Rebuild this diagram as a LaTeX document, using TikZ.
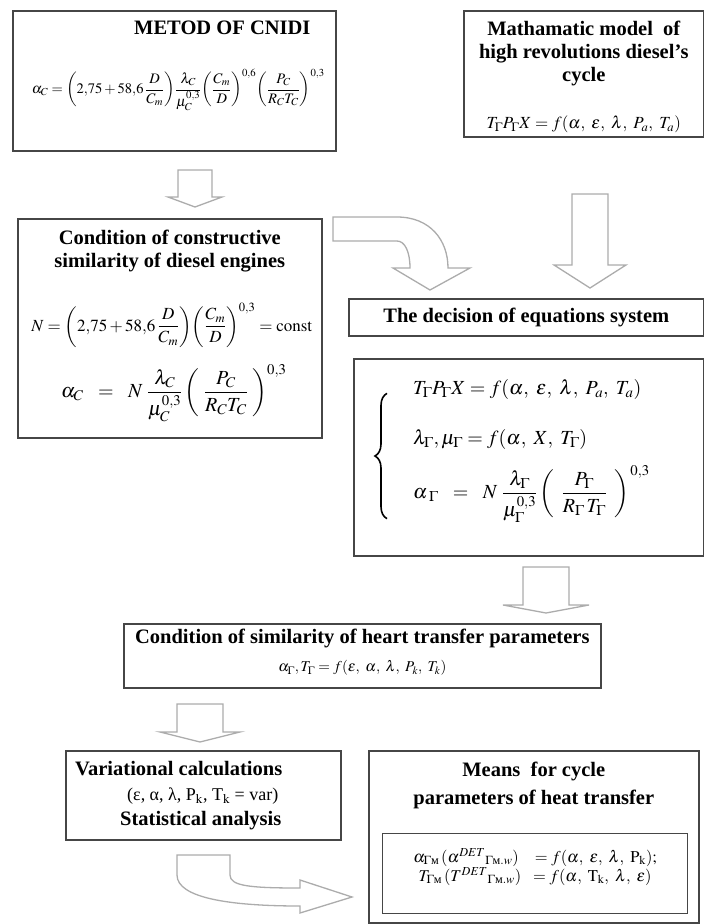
\documentclass[tikz,border=0pt]{standalone}
\usepackage{amsmath}
\usepackage{mathptmx}
\usepackage[no-math]{fontspec}
\setmainfont{Liberation Serif}
\usepackage{tikz}
\usetikzlibrary{
  calc,                       % coordinate arithmetic
  positioning,                % relative placement of the titles
  decorations.pathreplacing   % brace of the system
}

\tikzset{
  box/.style={draw=gray!55!black, line width=1.6pt, inner sep=0pt, anchor=north west},
  head/.style={font=\fontsize{20.5}{23}\selectfont\bfseries, align=center, inner sep=0pt},
  formula/.style={font=\fontsize{17}{20}\selectfont, inner sep=0pt},
  small/.style={font=\fontsize{15}{22}\selectfont, inner sep=0pt, align=center},
  blockarrow/.style={draw=gray!65, line width=1.3pt, fill=white, line join=miter}
}

% hollow down arrow: centre x, top y, wing y, tip y, half shaft, half head
\newcommand{\blockdown}[6]{%
  \draw[blockarrow] (#1-#5,#2) -- (#1-#5,#3) -- (#1-#6,#3) -- (#1,#4)
    -- (#1+#6,#3) -- (#1+#5,#3) -- (#1+#5,#2) -- cycle;}

\begin{document}
\begin{tikzpicture}[x=1pt, y=-1pt]
  \useasboundingbox (0,0) rectangle (704,924);

  % method of CNIDI
  \node[box, minimum width=323, minimum height=140] (cnidi) at (12,10) {};
  \node[head, below=11pt of cnidi.north, xshift=48pt] (cnidiT) {METOD OF CNIDI};
  \node[formula, font=\fontsize{14.5}{18}\selectfont] (cnidiF) at ($(cnidi.north)+(4,80)$)
    {$\displaystyle \alpha_C=\left(2{,}75+58{,}6\,\frac{D}{C_m}\right)\!\frac{\lambda_C}{\mu_C^{0,3}}\!\left(\frac{C_m}{D}\right)^{0,6}\!\left(\frac{P_C}{R_C T_C}\right)^{0,3}$};

  % mathematic model
  \node[box, minimum width=240, minimum height=126] (model) at (463,10) {};
  \node[head, below=11pt of model.north] (modelT)
    {Mathamatic model\ \ of\\high revolutions diesel's\\cycle};
  \node[formula] (modelF) at ($(model.south)+(0,-13)$)
    {$T_\Gamma P_\Gamma X = f(\alpha,\ \varepsilon,\ \lambda,\ P_a,\ T_a)$};

  % constructive similarity
  \node[box, minimum width=304, minimum height=219] (constr) at (17,218) {};
  \node[head, below=12pt of constr.north] (constrT)
    {Condition of constructive\\similarity of diesel engines};
  \node[formula] (constrF) at ($(constr.north)+(2,107)$)
    {$\displaystyle N=\left(2{,}75+58{,}6\,\frac{D}{C_m}\right)\!\left(\frac{C_m}{D}\right)^{0,3}=\mathrm{const}$};
  \node[formula, font=\fontsize{20}{24}\selectfont] (constrG) at ($(constr.north)+(4,175)$)
    {$\displaystyle \alpha_C\ \ =\ \ N\;\frac{\lambda_C}{\mu_C^{0,3}}\left(\;\frac{P_C}{R_C T_C}\;\right)^{0,3}$};

  % decision of the system
  \node[box, minimum width=355, minimum height=37] (decision) at (348,298) {};
  \node[head] (decisionT) at (decision.center) {The decision of equations system};

  \node[box, minimum width=350, minimum height=197] (system) at (353,358) {};
  \node[formula, font=\fontsize{20}{24}\selectfont, anchor=west] (systemF) at (413,450)
    {$\begin{array}{@{}l}
       T_\Gamma P_\Gamma X = f(\alpha,\ \varepsilon,\ \lambda,\ P_a,\ T_a)\\[26pt]
       \lambda_\Gamma,\mu_\Gamma = f(\alpha,\ X,\ T_\Gamma)\\[14pt]
       \displaystyle \alpha_{\;\Gamma}\ \ =\ \ N\;\frac{\lambda_\Gamma}{\mu_\Gamma^{0,3}}\left(\ \,\frac{P_\Gamma}{R_\Gamma\,T_\Gamma}\ \,\right)^{\,0,3}
     \end{array}$};
  \draw[decorate, decoration={brace, amplitude=12pt}, line width=1.6pt]
    ($(systemF.south west)+(-26,-4)$) -- ($(systemF.north west)+(-26,16)$);

  % heat transfer parameters
  \node[box, minimum width=477, minimum height=64] (heat) at (123,623) {};
  \node[head, below=6pt of heat.north] (heatT)
    {Condition of similarity of heart transfer parameters};
  \node[small] (heatF) at ($(heat.north)+(0,45)$)
    {$\alpha_\Gamma, T_\Gamma = f(\varepsilon,\ \alpha,\ \lambda,\ P_k,\ T_k)$};

  % variational calculations
  \node[box, minimum width=275, minimum height=89] (variat) at (65,750) {};
  \node[head, align=left, font=\fontsize{20.5}{25}\selectfont\bfseries, anchor=north west]
    (variatT) at ($(variat.north west)+(10,11)$)
    {Variational calculations\\
     \hspace{52pt}{\mdseries\fontsize{18}{25}\selectfont(ε, α, λ, P$_\mathrm{k}$, T$_\mathrm{k}$ = var)}\\
     \hspace{45pt}Statistical analysis};

  % means for cycle parameters
  \node[box, minimum width=330, minimum height=172] (means) at (368,750) {};
  \node[head, below=12pt of means.north] (meansT)
    {Means\ \ for cycle\\[5pt]parameters of heat transfer};
  \node[box, line width=1.3pt, minimum width=305, minimum height=80] (meansin) at (382,833) {};
  \node[small, font=\fontsize{16.5}{22}\selectfont] (meansF) at ($(meansin.center)+(0,-7)$)
    {$\alpha_{\Gamma\text{м}}\,(\alpha^{DET}{}_{\Gamma\text{м}.w})\ \ \ =f(\alpha,\ \varepsilon,\ \lambda,\ \mathrm{P_k});$\\[-3pt]
     $T_{\Gamma\text{м}}\,(T^{DET}{}_{\Gamma\text{м}.w})\ \ =f(\alpha,\ \mathrm{T_k},\ \lambda,\ \varepsilon)$};

  % hollow arrows between the boxes
  \blockdown{195}{170}{197}{207}{17}{27}   % cnidi -> constr
  \blockdown{590}{194}{265}{288}{18}{36}   % model -> decision
  \blockdown{546}{567}{605}{613}{23}{43}   % system -> heat
  \blockdown{200}{704}{732}{742}{23}{40}   % heat -> variat

  % constr -> decision, bent down
  \draw[blockarrow] (333,217) -- (397,217) .. controls (430,217) and (448,240) .. (448,268)
    -- (470,268) -- (430,290) -- (393,268) -- (410,268)
    .. controls (410,252) and (405,241) .. (397,241) -- (333,241) -- cycle;

  % variat -> means, bent right
  \draw[blockarrow] (177,855) -- (230,855) -- (230,875) .. controls (230,886) and (250,888) .. (300,888)
    -- (300,880) -- (352,897) -- (300,913) -- (300,906)
    .. controls (230,906) and (177,898) .. (177,875) -- cycle;
\end{tikzpicture}
\end{document}
